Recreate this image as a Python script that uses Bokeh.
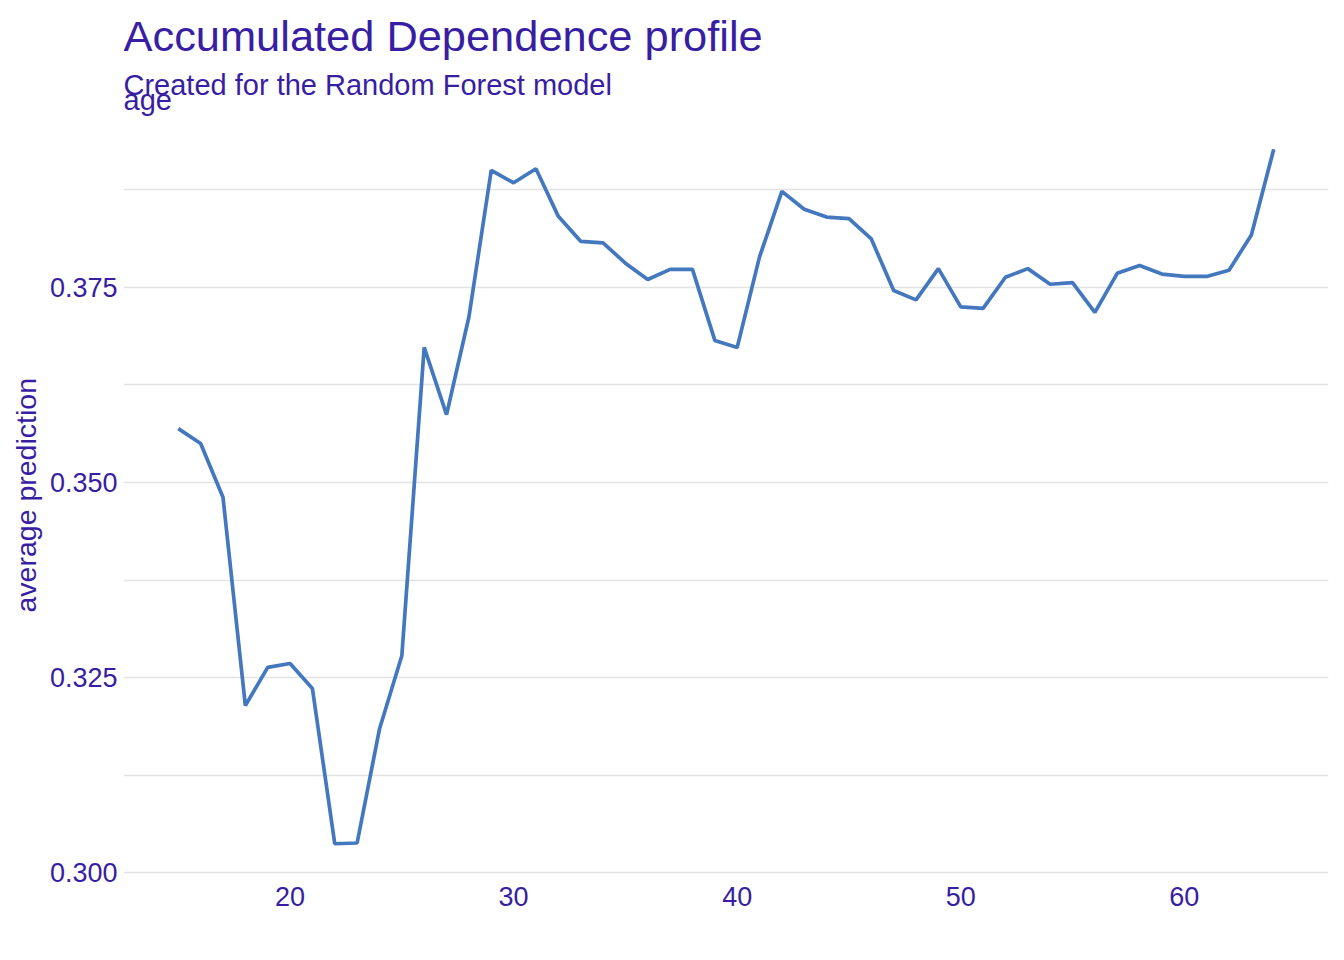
from bokeh.plotting import figure
from bokeh.models import Range1d, FixedTicker, Label, Title
from bokeh.embed import file_html
from bokeh.resources import INLINE

# ---- data ----
age = list(range(15, 65))
avg_prediction = [
    0.3569, 0.3550, 0.3481, 0.3214, 0.3263, 0.3268, 0.3236, 0.3037, 0.3038, 0.3184,
    0.3278, 0.3673, 0.3587, 0.3712, 0.3900, 0.3884, 0.3902, 0.3841, 0.3809, 0.3807,
    0.3781, 0.3760, 0.3773, 0.3773, 0.3682, 0.3673, 0.3789, 0.3873, 0.3850, 0.3840,
    0.3838, 0.3812, 0.3746, 0.3734, 0.3774, 0.3725, 0.3723, 0.3763, 0.3774, 0.3754,
    0.3756, 0.3718, 0.3768, 0.3778, 0.3767, 0.3764, 0.3764, 0.3772, 0.3817, 0.3927,
]
x_ticks = [20, 30, 40, 50, 60]
x_tick_labels = ["20", "30", "40", "50", "60"]
y_ticks = [0.300, 0.325, 0.350, 0.375]
y_tick_labels = ["0.300", "0.325", "0.350", "0.375"]
y_minor_ticks = [0.3125, 0.3375, 0.3625, 0.3875]

title_text = "Accumulated Dependence profile"
subtitle_text = "Created for the Random Forest model"
facet_text = "age"
y_label = "average prediction"

# ---- styling ----
TXT = "#371ea3"
LINE = "#4378bf"
GRID = "#e3e3e3"
FONT = "Liberation Sans"

W, H = 1344, 960
LEFT, RIGHT, BOTTOM = 123, 16, 82
HEAD_PX = 114                    # heading band kept above the data panel
DATA_PX = H - BOTTOM - HEAD_PX   # height of the data panel
FRAME_H = H - BOTTOM

xmin, xmax = min(age), max(age)
ymin, ymax = min(avg_prediction), max(avg_prediction)
xpad = (xmax - xmin) * 0.05
ypad = (ymax - ymin) * 0.05
y_lo, y_hi = ymin - ypad, ymax + ypad
y_top = y_hi + (y_hi - y_lo) * HEAD_PX / DATA_PX

p = figure(
    width=W, height=H,
    output_backend="svg", toolbar_location=None,
    x_range=Range1d(xmin - xpad, xmax + xpad),
    y_range=Range1d(y_lo, y_top),
    min_border_left=LEFT, min_border_right=RIGHT,
    min_border_top=0, min_border_bottom=BOTTOM,
)
p.outline_line_color = None
p.background_fill_color = "white"
p.border_fill_color = "white"

p.line(age, avg_prediction, line_color=LINE, line_width=3.7)

# axes
for ax in (p.xaxis[0], p.yaxis[0]):
    ax.axis_line_color = None
    ax.major_tick_line_color = None
    ax.minor_tick_line_color = None
    ax.major_tick_out = 0
    ax.major_tick_in = 0
    ax.minor_tick_out = 0
    ax.minor_tick_in = 0
    ax.major_label_text_color = TXT
    ax.major_label_text_font = FONT
    ax.major_label_text_font_size = "27px"

p.xaxis.ticker = FixedTicker(ticks=x_ticks)
p.xaxis.major_label_overrides = {t: l for t, l in zip(x_ticks, x_tick_labels)}
p.xaxis.major_label_standoff = 8

p.yaxis.ticker = FixedTicker(ticks=y_ticks, minor_ticks=y_minor_ticks)
p.yaxis.major_label_overrides = {t: l for t, l in zip(y_ticks, y_tick_labels)}
p.yaxis.major_label_standoff = 6

# y axis title, anchored to the bottom of the data panel
p.add_layout(Title(text=y_label, align="left", vertical_align="bottom",
                   offset=266, standoff=10, text_color=TXT, text_font=FONT,
                   text_font_size="28.5px", text_font_style="normal"), "left")

# grid
p.xgrid.grid_line_color = None
p.ygrid.grid_line_color = GRID
p.ygrid.grid_line_width = 1.3
p.ygrid.minor_grid_line_color = GRID
p.ygrid.minor_grid_line_width = 1.3

# headings (screen units measured up from the frame bottom)
p.add_layout(Label(x=0, y=FRAME_H - 35, x_units="screen", y_units="screen",
                   text=title_text, text_color=TXT, text_font=FONT,
                   text_font_size="43.4px", text_baseline="alphabetic", text_align="left"))
p.add_layout(Label(x=0, y=FRAME_H - 84, x_units="screen", y_units="screen",
                   text=subtitle_text, text_color=TXT, text_font=FONT,
                   text_font_size="29px", text_baseline="alphabetic", text_align="left"))
p.add_layout(Label(x=0, y=FRAME_H - 99, x_units="screen", y_units="screen",
                   text=facet_text, text_color=TXT, text_font=FONT,
                   text_font_size="29px", text_baseline="alphabetic", text_align="left"))

open("out.html", "w").write(file_html(p, INLINE))
